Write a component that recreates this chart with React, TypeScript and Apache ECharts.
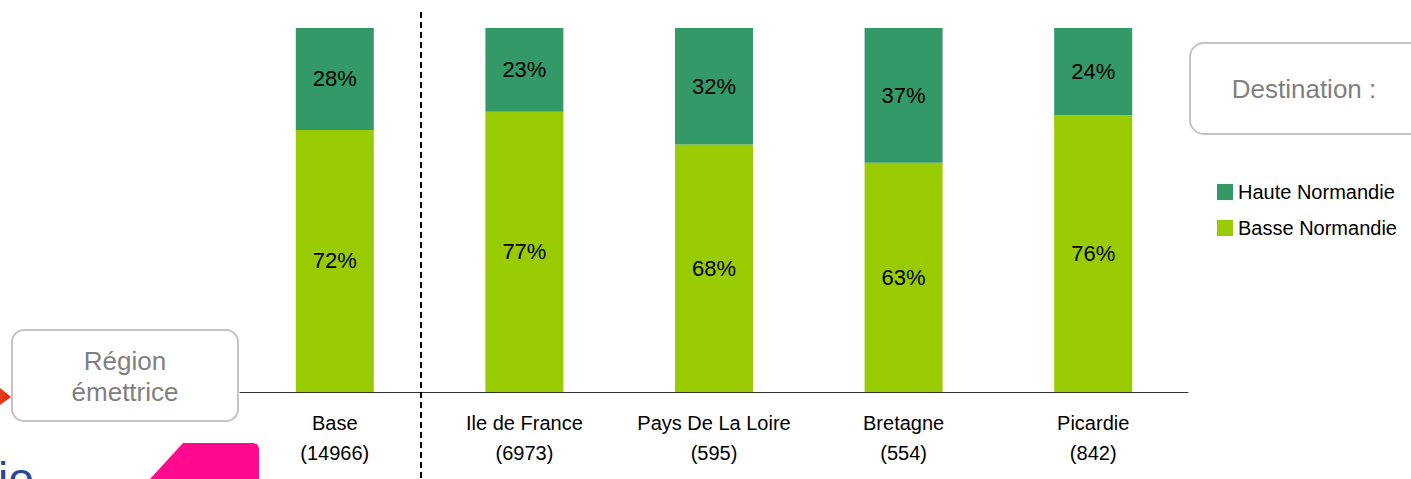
import React, { useEffect, useRef } from "react";
import * as echarts from "echarts";

const categories = ["Base\n(14966)", "Ile de France\n(6973)", "Pays De La Loire\n(595)", "Bretagne\n(554)", "Picardie\n(842)"];
const hauteNormandie = [28, 23, 32, 37, 24];
const basseNormandie = [72, 77, 68, 63, 76];

const FONT = "'Liberation Sans', Arial, Helvetica, sans-serif";

export default function App() {
  const ref = useRef<HTMLDivElement>(null);
  useEffect(() => {
    document.body.style.margin = "0";
    const chart = echarts.init(ref.current!, null, { renderer: "svg" });
    const labelStyle = {
      show: true,
      position: "inside",
      color: "#000",
      fontSize: 22,
      fontFamily: FONT,
      formatter: (p: any) => p.value + "%",
    };
    chart.setOption({
      animation: false,
      backgroundColor: "#fff",
      textStyle: { fontFamily: FONT },
      grid: { left: 240, right: 223, top: 28, bottom: 87, containLabel: false },
      legend: {
        orient: "vertical",
        left: 1217,
        top: 182,
        padding: 0,
        itemWidth: 16,
        itemHeight: 16,
        itemGap: 16,
        icon: "rect",
        textStyle: { color: "#000", fontSize: 20, fontFamily: FONT },
        data: ["Haute Normandie", "Basse Normandie"],
      },
      xAxis: {
        type: "category",
        data: categories,
        axisLine: { show: true, lineStyle: { color: "#333", width: 1 } },
        axisTick: { show: false },
        axisLabel: { color: "#000", fontSize: 20, lineHeight: 30, margin: 16, fontFamily: FONT, interval: 0 },
      },
      yAxis: {
        type: "value",
        min: 0,
        max: 100,
        show: false,
        splitLine: { show: false },
      },
      series: [
        {
          name: "Basse Normandie",
          type: "bar",
          stack: "total",
          barWidth: 78,
          data: basseNormandie,
          itemStyle: { color: "#99CC00" },
          label: labelStyle,
        },
        {
          name: "Haute Normandie",
          type: "bar",
          stack: "total",
          barWidth: 78,
          data: hauteNormandie,
          itemStyle: { color: "#339966" },
          label: labelStyle,
        },
      ],
      graphic: [
        {
          type: "line",
          shape: { x1: 421, y1: 12, x2: 421, y2: 479 },
          style: { stroke: "#000", lineWidth: 2, lineDash: [6, 4] },
          z: 10,
        },
        {
          type: "rect",
          shape: { x: 12, y: 330, width: 226, height: 91, r: 12 },
          style: { fill: "#fff", stroke: "#c4c4c4", lineWidth: 2 },
        },
        {
          type: "text",
          x: 125,
          y: 376,
          style: {
            text: "Région\némettrice",
            fill: "#808080",
            font: "26px " + FONT,
            lineHeight: 31,
            align: "center",
            verticalAlign: "middle",
          },
        },
        {
          type: "rect",
          shape: { x: 1190, y: 43, width: 240, height: 91, r: 14 },
          style: { fill: "#fff", stroke: "#c4c4c4", lineWidth: 2 },
        },
        {
          type: "text",
          x: 1304,
          y: 89,
          style: {
            text: "Destination :",
            fill: "#808080",
            font: "26px " + FONT,
            align: "center",
            verticalAlign: "middle",
          },
        },
        {
          type: "polygon",
          shape: { points: [[0, 388], [11, 397], [0, 405]] },
          style: {
            fill: new echarts.graphic.LinearGradient(0, 0, 1, 0, [
              { offset: 0, color: "#e8401a" },
              { offset: 1, color: "#f01c10" },
            ]),
          },
        },
        {
          type: "text",
          x: -2,
          y: 502,
          style: {
            text: "io",
            fill: "#2a4796",
            font: "46px " + FONT,
            verticalAlign: "bottom",
          },
        },
        {
          type: "polygon",
          shape: {
            points: [[150, 479], [183, 443], [253, 443], [257, 444], [259, 448], [259, 479]],
          },
          style: { fill: "#FF0A8E" },
        },
      ],
    });
    return () => chart.dispose();
  }, []);
  return <div ref={ref} style={{ position: "absolute", left: 0, top: 0, width: 1411, height: 479 }} />;
}
